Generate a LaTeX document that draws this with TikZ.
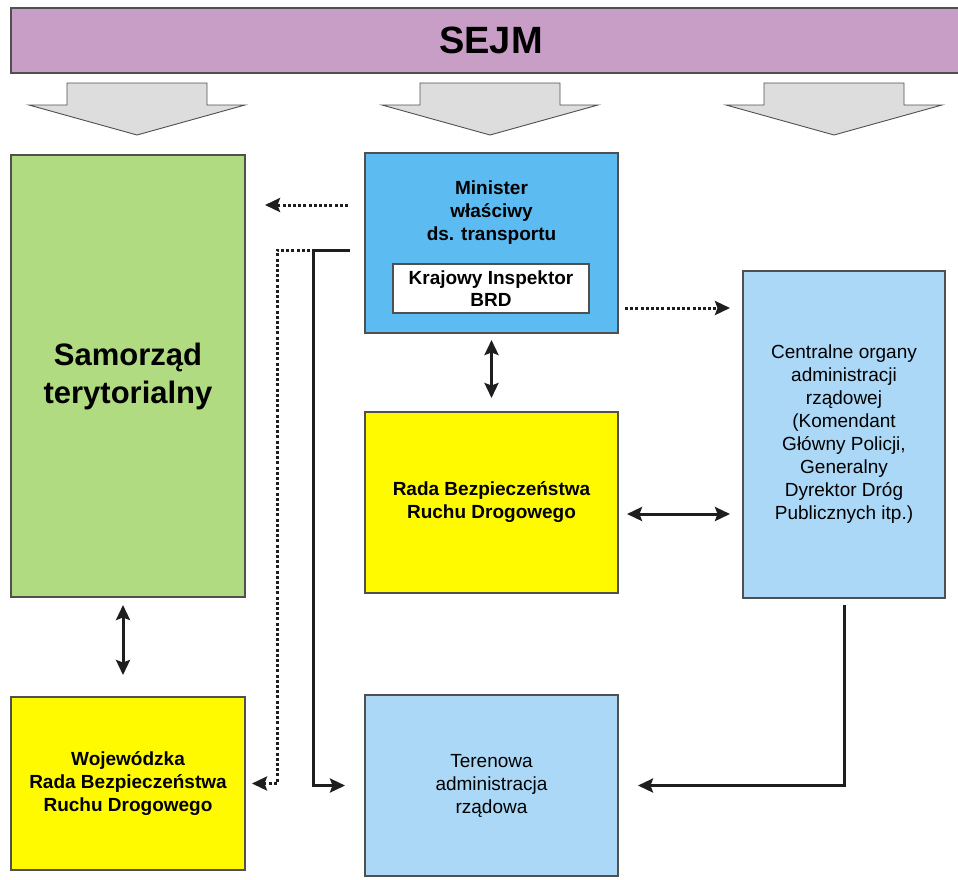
\documentclass[tikz,border=0pt]{standalone}
\usepackage{fontspec}
\setmainfont{Liberation Sans}
\usetikzlibrary{arrows.meta,calc}
\definecolor{sejmc}{RGB}{200,158,198}
\definecolor{greenc}{RGB}{176,219,128}
\definecolor{minc}{RGB}{92,188,242}
\definecolor{lightb}{RGB}{170,216,246}
\definecolor{yellowc}{RGB}{255,250,0}
\definecolor{grayarr}{RGB}{221,221,221}
\definecolor{boxline}{RGB}{80,80,80}
\definecolor{linec}{RGB}{30,30,30}
\begin{document}
\begin{tikzpicture}[x=1pt,y=-1pt,
  box/.style={draw=boxline, line width=1.3pt, inner sep=0pt, outer sep=0pt, align=center,
    font=\fontsize{19}{23}\selectfont},
  bigarrow/.style={fill=grayarr, draw=boxline, line width=0.9pt, line join=miter},
  tip/.tip={Stealth[length=15pt,width=14pt,inset=2.5pt]},
  solidarrow/.style={draw=linec, line width=3pt, -tip},
  dblarrow/.style={draw=linec, line width=3pt, tip-tip},
  dotarrow/.style={draw=linec, line width=3pt, dash pattern=on 3pt off 2.2pt, -tip}
]
\useasboundingbox (0,0) rectangle (958,879);

% SEJM bar
\node[box, fill=sejmc, minimum width=960pt, minimum height=65pt, font=\fontsize{38}{44}\selectfont\bfseries] (sejm) at (491,40.5) {SEJM};

% big gray arrows
\foreach \c in {137,490,834}{
  \draw[bigarrow] (\c-70,83) -- (\c+70,83) -- (\c+70,105) -- (\c+108,105) -- (\c,135) -- (\c-108,105) -- (\c-70,105) -- cycle;
}

% boxes
\node[box, fill=greenc, minimum width=234pt, minimum height=442pt, font=\fontsize{31}{38}\selectfont\bfseries] (sam) at (128,376) {Samorząd\\terytorialny};

\node[box, fill=minc, minimum width=253pt, minimum height=180pt] (min) at (491.5,243) {};
\node[align=center, inner sep=0pt, font=\fontsize{19}{23}\selectfont\bfseries] (mintext) at (491.5,213) {Minister\\właściwy\\ds. transportu};
\node[box, fill=white, minimum width=196pt, minimum height=49pt, font=\fontsize{19}{22}\selectfont\bfseries] (kbrd) at (491,288.5) {Krajowy Inspektor\\BRD};

\node[box, fill=yellowc, minimum width=253pt, minimum height=181pt, font=\fontsize{19}{23}\selectfont\bfseries] (rada) at (491.5,502.5) {Rada Bezpieczeństwa\\Ruchu Drogowego};

\node[box, fill=lightb, minimum width=202pt, minimum height=327pt] (cent) at (844,434.5) {Centralne organy\\administracji\\rządowej\\(Komendant\\Główny Policji,\\Generalny\\Dyrektor Dróg\\Publicznych itp.)};

\node[box, fill=yellowc, minimum width=234pt, minimum height=173pt, font=\fontsize{19}{23}\selectfont\bfseries] (woj) at (128,783.5) {Wojewódzka\\Rada Bezpieczeństwa\\Ruchu Drogowego};

\node[box, fill=lightb, minimum width=253pt, minimum height=181pt] (ter) at (491.5,785.5) {Terenowa\\administracja\\rządowa};

% junction coordinates
\coordinate (jS) at (313,250);
\coordinate (jD) at (277,250);

% connectors
\draw[dotarrow, shorten <=17pt, shorten >=20pt] ([yshift=38pt]min.west) -- ([yshift=38pt]min.west -| sam.east);
\draw[dotarrow, shorten <=7pt, shorten >=13pt] ([yshift=-65pt]min.east) -- ([yshift=-65pt]min.east -| cent.west);
\draw[dblarrow, shorten <=7pt, shorten >=14pt] (min.south) -- (rada.north);
\draw[dblarrow, shorten <=9pt, shorten >=13pt] ([yshift=-11.5pt]rada.east) -- ([yshift=-11.5pt]rada.east -| cent.west);
\draw[dblarrow, shorten <=8pt, shorten >=22pt] ([xshift=-5pt]sam.south) -- ([xshift=-5pt]woj.north);
\draw[dotarrow, shorten <=55pt, shorten >=7pt] ([yshift=-7pt]min.west) -- (jD) |- (woj.east);
\draw[solidarrow, shorten <=15pt, shorten >=20pt] ([yshift=-7pt]min.west) -- (jS) |- (ter.west);
\draw[solidarrow, shorten <=7pt, shorten >=20pt] (cent.south) |- (ter.east);
\end{tikzpicture}
\end{document}
